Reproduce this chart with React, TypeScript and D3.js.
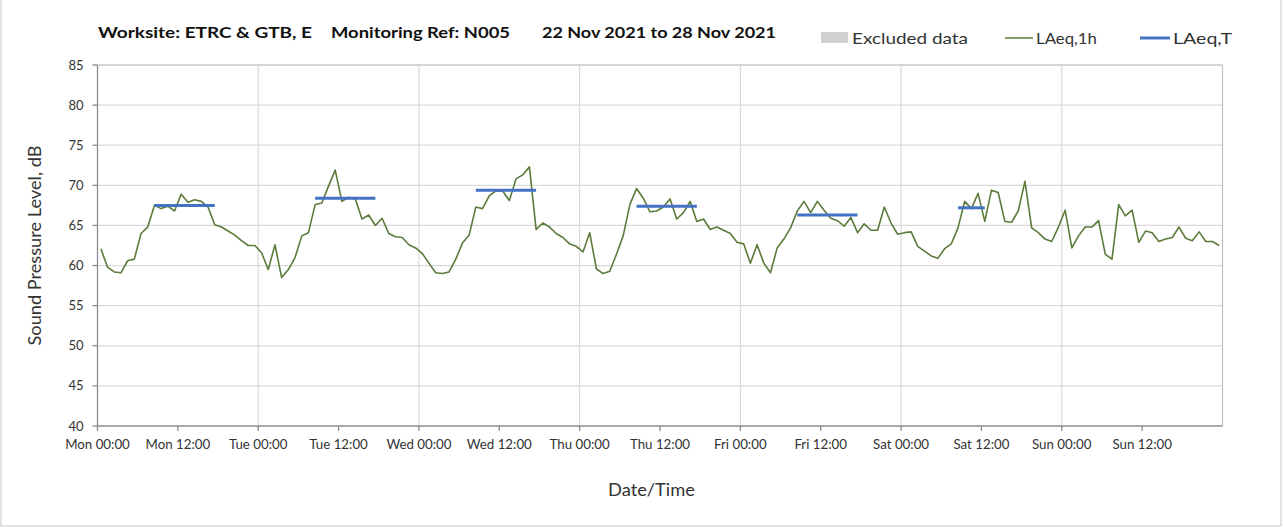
import React from "react";
import * as d3 from "d3";

// ---- data ----
const dayNames = ["Mon", "Tue", "Wed", "Thu", "Fri", "Sat", "Sun"];
const tickHours = ["00:00", "12:00"];
const yTicks = [40, 45, 50, 55, 60, 65, 70, 75, 80, 85];

const mon = [62.1, 59.8, 59.2, 59.1, 60.6, 60.8, 64.0, 64.8, 67.5, 67.1, 67.4, 66.8, 68.9, 67.9, 68.2, 68.0, 67.3, 65.1, 64.8, 64.3, 63.8, 63.1, 62.5, 62.5];
const tue = [61.6, 59.5, 62.6, 58.5, 59.5, 61.0, 63.7, 64.1, 67.6, 67.8, 69.9, 71.9, 68.0, 68.5, 68.3, 65.8, 66.3, 65.0, 65.9, 64.0, 63.6, 63.5, 62.6, 62.2];
const wed = [61.5, 60.3, 59.1, 59.0, 59.2, 60.8, 62.8, 63.8, 67.3, 67.1, 68.7, 69.3, 69.3, 68.1, 70.8, 71.3, 72.3, 64.5, 65.3, 64.8, 64.0, 63.5, 62.7, 62.4];
const thu = [61.7, 64.1, 59.6, 59.0, 59.3, 61.4, 63.7, 67.6, 69.6, 68.4, 66.7, 66.8, 67.3, 68.3, 65.8, 66.6, 68.0, 65.5, 65.8, 64.5, 64.8, 64.4, 64.0, 62.9];
const fri = [62.7, 60.3, 62.6, 60.3, 59.1, 62.2, 63.3, 64.7, 66.8, 68.0, 66.6, 68.0, 66.9, 65.9, 65.6, 64.9, 66.0, 64.1, 65.2, 64.4, 64.4, 67.3, 65.3, 63.9];
const sat = [64.1, 64.2, 62.4, 61.8, 61.2, 60.9, 62.1, 62.7, 64.7, 68.0, 67.1, 69.0, 65.5, 69.4, 69.1, 65.5, 65.4, 66.8, 70.5, 64.7, 64.1, 63.3, 63.0, 64.8];
const sun = [66.9, 62.2, 63.7, 64.8, 64.8, 65.6, 61.4, 60.8, 67.6, 66.2, 66.9, 62.9, 64.3, 64.1, 63.0, 63.3, 63.5, 64.8, 63.4, 63.1, 64.2, 63.0, 63.0, 62.5];
const laeq1h = [...mon, ...tue, ...wed, ...thu, ...fri, ...sat, ...sun];

// LAeq,T per working period: day index, first hour, last hour, value
const periodDay = [0, 1, 2, 3, 4, 5];
const periodFrom = [8, 8, 8, 8, 8, 8];
const periodTo = [17, 17, 17, 17, 17, 12];
const laeqT = [67.5, 68.4, 69.4, 67.4, 66.3, 67.2];

const titleParts = ["Worksite: ETRC & GTB, E", "Monitoring Ref: N005", "22 Nov 2021 to 28 Nov 2021"];

// ---- layout ----
const W = 1283, H = 531;
const M = { left: 97.5, right: 1222.5, top: 65, bottom: 426 };
const FONT = "Lato, 'Open Sans', sans-serif";

export default function App() {
  const totalHours = laeq1h.length;
  const x = d3.scaleLinear().domain([0, totalHours]).range([M.left, M.right]);
  const y = d3.scaleLinear().domain([40, 85]).range([M.bottom, M.top]);

  const line = d3
    .line<number>()
    .x((_, i) => x(i + 0.5))
    .y((d) => y(d));

  const xTicks: { h: number; label: string }[] = [];
  dayNames.forEach((d, di) =>
    tickHours.forEach((t, ti) => xTicks.push({ h: di * 24 + ti * 12, label: `${d} ${t}` }))
  );
  const dayLines = d3.range(1, dayNames.length).map((d) => d * 24);

  const tLine = d3
    .line<[number, number]>()
    .x((d) => x(d[0] + 0.5))
    .y((d) => y(d[1]));

  return (
    <svg
      width={W}
      height={H}
      style={{ position: "absolute", left: 0, top: 0, background: "#fff" }}
      fontFamily={FONT}
    >
      <rect x={1} y={-2} width={W - 3} height={H - 3} fill="#fff" stroke="#d9d9d9" strokeWidth={1.5} />

      {/* title */}
      <g fontWeight="bold" fontSize={15.5} fill="#111">
        <text x={98} y={38} textLength={214} lengthAdjust="spacingAndGlyphs">{titleParts[0]}</text>
        <text x={331} y={38} textLength={179} lengthAdjust="spacingAndGlyphs">{titleParts[1]}</text>
        <text x={542} y={38} textLength={234} lengthAdjust="spacingAndGlyphs">{titleParts[2]}</text>
      </g>

      {/* legend */}
      <g fontSize={16} fill="#333">
        <rect x={821} y={32} width={27} height={11} fill="#d0d0d0" />
        <text x={852} y={44} textLength={116} lengthAdjust="spacingAndGlyphs">Excluded data</text>
        <line x1={1005} x2={1033} y1={38} y2={38} stroke="#5b7b3b" strokeWidth={1.5} />
        <text x={1036} y={44} textLength={61} lengthAdjust="spacingAndGlyphs">LAeq,1h</text>
        <line x1={1140} x2={1170} y1={38} y2={38} stroke="#4472c4" strokeWidth={3} />
        <text x={1173} y={44} textLength={59} lengthAdjust="spacingAndGlyphs">LAeq,T</text>
      </g>

      {/* gridlines */}
      <g stroke="#d9d9d9" strokeWidth={1.2}>
        {yTicks.slice(1).map((t) => (
          <line key={t} x1={M.left} x2={M.right} y1={y(t)} y2={y(t)} />
        ))}
        {dayLines.map((h) => (
          <line key={h} x1={x(h)} x2={x(h)} y1={M.top} y2={M.bottom} />
        ))}
      </g>
      <line x1={M.right} x2={M.right} y1={M.top} y2={M.bottom} stroke="#bfbfbf" strokeWidth={1.2} />
      <line x1={M.left} x2={M.right} y1={M.top} y2={M.top} stroke="#bfbfbf" strokeWidth={1.2} />

      {/* axes */}
      <g stroke="#8c8c8c" strokeWidth={1.3}>
        <line x1={M.left} x2={M.left} y1={M.top} y2={M.bottom} />
        <line x1={M.left} x2={M.right} y1={M.bottom} y2={M.bottom} />
        {yTicks.map((t) => (
          <line key={t} x1={M.left - 5} x2={M.left} y1={y(t)} y2={y(t)} />
        ))}
        {xTicks.map((t) => (
          <line key={t.h} x1={x(t.h)} x2={x(t.h)} y1={M.bottom} y2={M.bottom + 5} />
        ))}
      </g>
      <g fontSize={13} fill="#333" textAnchor="end">
        {yTicks.map((t) => (
          <text key={t} x={M.left - 14} y={y(t) + 4.5}>{t}</text>
        ))}
      </g>
      <g fontSize={13.3} fill="#333" textAnchor="middle">
        {xTicks.map((t) => (
          <text key={t.h} x={x(t.h)} y={449}>{t.label}</text>
        ))}
      </g>

      {/* axis titles */}
      <text x={608} y={496} fontSize={17} fill="#333" textLength={87} lengthAdjust="spacingAndGlyphs">Date/Time</text>
      <text
        transform={`translate(41,${(M.top + M.bottom) / 2}) rotate(-90)`}
        x={-100}
        fontSize={17}
        fill="#333"
        textLength={200}
        lengthAdjust="spacingAndGlyphs"
      >
        Sound Pressure Level, dB
      </text>

      {/* series */}
      <path d={line(laeq1h) || ""} fill="none" stroke="#5b7b3b" strokeWidth={1.6} strokeLinejoin="round" />
      {laeqT.map((v, i) => {
        const base = periodDay[i] * 24;
        const pts: [number, number][] = [
          [base + periodFrom[i], v],
          [base + periodTo[i], v],
        ];
        return <path key={i} d={tLine(pts) || ""} fill="none" stroke="#4472c4" strokeWidth={3} />;
      })}
    </svg>
  );
}
